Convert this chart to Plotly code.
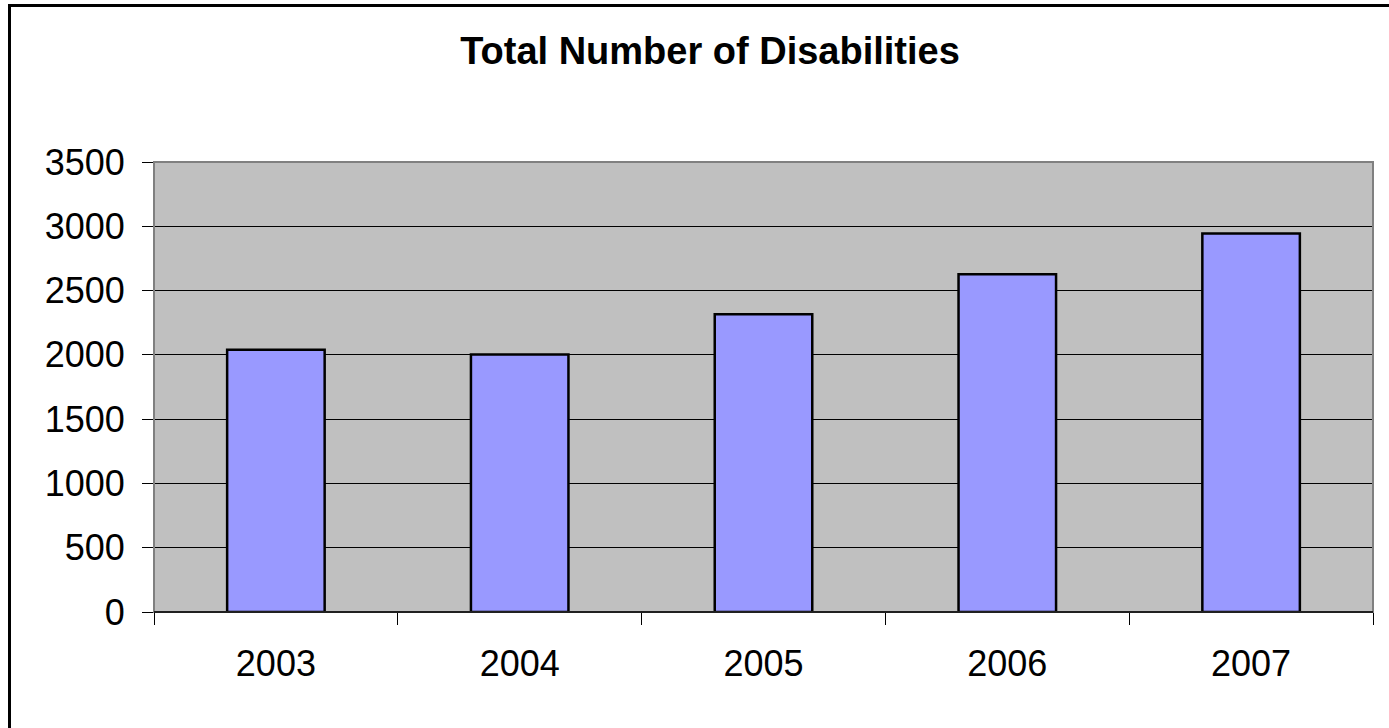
import plotly.graph_objects as go

years = ["2003", "2004", "2005", "2006", "2007"]
disabilities = [2040, 2003, 2315, 2627, 2943]
y_ticks = [0, 500, 1000, 1500, 2000, 2500, 3000, 3500]
title_text = "Total Number of Disabilities"

W, H = 1389, 728
# plot area on screen
PL, PR, PT, PB = 154, 1373, 162, 612
L, R, T, B = PL, W - PR, PT, H - PB
pw, ph = W - L - R, H - T - B

def sx_to_paper(sx):
    return (sx - L) / pw

def sy_to_paper(sy):
    return (H - B - sy) / ph

FONT = "Arial, 'Liberation Sans', sans-serif"

fig = go.Figure(go.Bar(
    x=years, y=disabilities,
    marker=dict(color="#9999FF", line=dict(color="black", width=2.5)),
    width=0.4,
))

fig.update_layout(
    width=W, height=H,
    margin=dict(l=L, r=R, t=T, b=B),
    paper_bgcolor="white",
    plot_bgcolor="#C0C0C0",
    showlegend=False,
    font=dict(family=FONT, color="black", size=36),
    title=dict(text="<b>" + title_text + "</b>", x=710 / W,
               xanchor="center", y=1 - 51 / H, yanchor="middle",
               font=dict(size=38, family=FONT, color="black")),
    xaxis=dict(
        tickson="boundaries", ticks="outside", ticklen=12, tickcolor="black",
        showline=True, linecolor="black", linewidth=1,
        showgrid=False, tickfont=dict(size=36), ticklabelstandoff=20,
    ),
    yaxis=dict(
        range=[0, 3500], tickvals=y_ticks, ticks="outside", ticklen=11,
        tickcolor="black", showgrid=True, gridcolor="black", gridwidth=1,
        showline=False, zeroline=False, tickfont=dict(size=36),
        ticklabelstandoff=10,
    ),
)

# plot area border (grey)
fig.add_shape(type="rect", xref="paper", yref="paper", x0=0, x1=1, y0=0, y1=1,
              line=dict(color="#808080", width=2), layer="above")
# bottom axis line
fig.add_shape(type="line", xref="paper", yref="paper", x0=0, x1=1, y0=0, y1=0,
              line=dict(color="black", width=1.5), layer="above")
# outer chart frame
fig.add_shape(type="rect", xref="paper", yref="paper",
              x0=sx_to_paper(9.5), x1=sx_to_paper(W + 20),
              y0=sy_to_paper(H + 20), y1=sy_to_paper(5.5),
              line=dict(color="black", width=3))

fig.write_html(
    "out.html",
    config={"displayModeBar": False},
    post_script="document.body.style.margin='0';document.body.style.overflow='hidden';",
)
